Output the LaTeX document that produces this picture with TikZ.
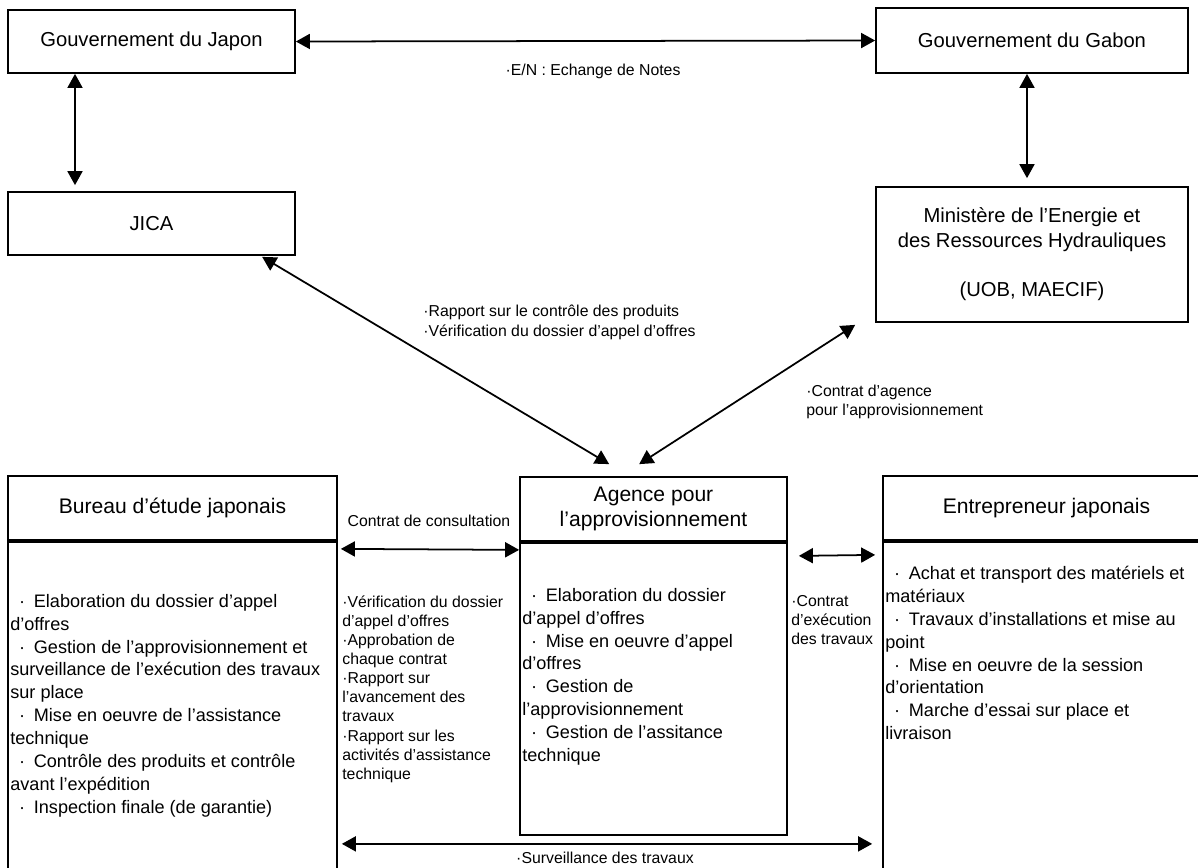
\documentclass[tikz,border=0pt]{standalone}
\usepackage{fontspec}
\setmainfont{Liberation Sans}
\usetikzlibrary{arrows.meta, positioning, calc}
\tikzset{
    entity/.style={rectangle, draw=black, line width=1pt, align=center, inner sep=0pt, font=\fontsize{11.5}{14}\selectfont},
    header/.style={entity, font=\fontsize{12}{14}\selectfont},
    bodytext/.style={align=left, anchor=north west, inner sep=0pt, font=\fontsize{10.3}{13}\selectfont},
    smalltext/.style={align=left, inner sep=0pt, font=\fontsize{9}{10.9}\selectfont},
    biarrow/.style={{Triangle[length=2.8mm, width=3mm]}-{Triangle[length=2.8mm, width=3mm]}, line width=1pt}
}
\newcommand{\bul}{\makebox[1.3em]{·}}

\begin{document}
\begin{tikzpicture}[x=0.02cm, y=-0.02cm]
  \useasboundingbox (0,0) rectangle (1198,867);
  \begin{scope}
  \clip (0,0) rectangle (1198,867);
  % top row
  \node[entity, minimum width=5.74cm, minimum height=1.26cm] (japon) at (151.5,41.5) {Gouvernement du Japon};
  \node[entity, minimum width=6.24cm, minimum height=1.3cm] (gabon) at (1032,40.5) {Gouvernement du Gabon};
  \node[entity, minimum width=5.74cm, minimum height=1.26cm] (jica) at (151.5,223.5) {JICA};
  \node[entity, minimum width=6.24cm, minimum height=2.7cm] (minist) at (1032,254.5) {Minist\`ere de l'Energie et\\des Ressources Hydrauliques\\[14pt](UOB, MAECIF)};
  % bottom row
  \node[header, minimum width=6.58cm, minimum height=1.28cm] (bureau) at (172.5,508) {Bureau d'\'etude japonais};
  \node[entity, minimum width=6.58cm, minimum height=7cm, anchor=north] (bureaub) at (bureau.south) {};
  \node[header, minimum width=5.34cm, minimum height=1.28cm] (agence) at (653.5,509) {Agence pour\\l'approvisionnement};
  \node[entity, minimum width=5.34cm, minimum height=5.84cm, anchor=north] (agenceb) at (agence.south) {};
  \node[header, minimum width=6.54cm, minimum height=1.28cm] (entre) at (1046.5,508) {Entrepreneur japonais};
  \node[entity, minimum width=6.54cm, minimum height=7cm, anchor=north] (entreb) at (entre.south) {};
  % box contents
  \node[bodytext] (bureaut) at (10,594) {\bul Elaboration du dossier d'appel\\d'offres\\\bul Gestion de l'approvisionnement et\\surveillance de l'ex\'ecution des travaux\\sur place\\\bul Mise en oeuvre de l'assistance\\technique\\\bul Contr\^ole des produits et contr\^ole\\avant l'exp\'edition\\\bul Inspection finale (de garantie)};
  \node[bodytext] (agencet) at (522,588) {\bul Elaboration du dossier\\d'appel d'offres\\\bul Mise en oeuvre d'appel\\d'offres\\\bul Gestion de\\l'approvisionnement\\\bul Gestion de l'assitance\\technique};
  \node[bodytext] (entret) at (885,566) {\bul Achat et transport des mat\'eriels et\\mat\'eriaux\\\bul Travaux d'installations et mise au\\point\\\bul Mise en oeuvre de la session\\d'orientation\\\bul Marche d'essai sur place et\\livraison};
  % connectors
  \draw[biarrow] (japon.east) -- (gabon.west);
  \draw[biarrow] (japon.south -| 75,0) -- ($(jica.north -| 75,0)+(0,-6)$);
  \draw[biarrow] (gabon.south -| 1027,0) -- ($(minist.north -| 1027,0)+(0,-8)$);
  \draw[biarrow] ($(jica.south west)+(255,1)$) -- ($(agence.north west)+(90,-12)$);
  \draw[biarrow] ($(minist.south west)+(-20,2)$) -- ($(agence.north west)+(120,-12)$);
  \draw[biarrow] ($(bureaub.north east)+(3,8)$) -- ($(agenceb.north west)+(0,8)$);
  \draw[biarrow] ($(agenceb.north east)+(11,14)$) -- ($(entreb.north west)+(-7,14)$);
  \draw[biarrow] ($(bureaub.north east)+(4,303)$) -- ($(entreb.north west)+(-10,303)$);
  % labels
  \node[smalltext] (en) at (593,71) {·E/N : Echange de Notes};
  \node[smalltext, anchor=north west] (rapport) at (423,305) {·Rapport sur le contr\^ole des produits\\·V\'erification du dossier d'appel d'offres};
  \node[smalltext, anchor=north west] (agcontrat) at (806,385) {·Contrat d'agence\\pour l'approvisionnement};
  \node[smalltext] (consult) at (429,521) {Contrat de consultation};
  \node[smalltext, anchor=north west] (verif) at (342,595) {·V\'erification du dossier\\d'appel d'offres\\·Approbation de\\chaque contrat\\·Rapport sur\\l'avancement des\\travaux\\·Rapport sur les\\activit\'es d'assistance\\technique};
  \node[smalltext, anchor=north west] (execution) at (791,595) {·Contrat\\d'ex\'ecution\\des travaux};
  \node[smalltext] (surv) at (605,858) {·Surveillance des travaux};
  \end{scope}
\end{tikzpicture}
\end{document}
